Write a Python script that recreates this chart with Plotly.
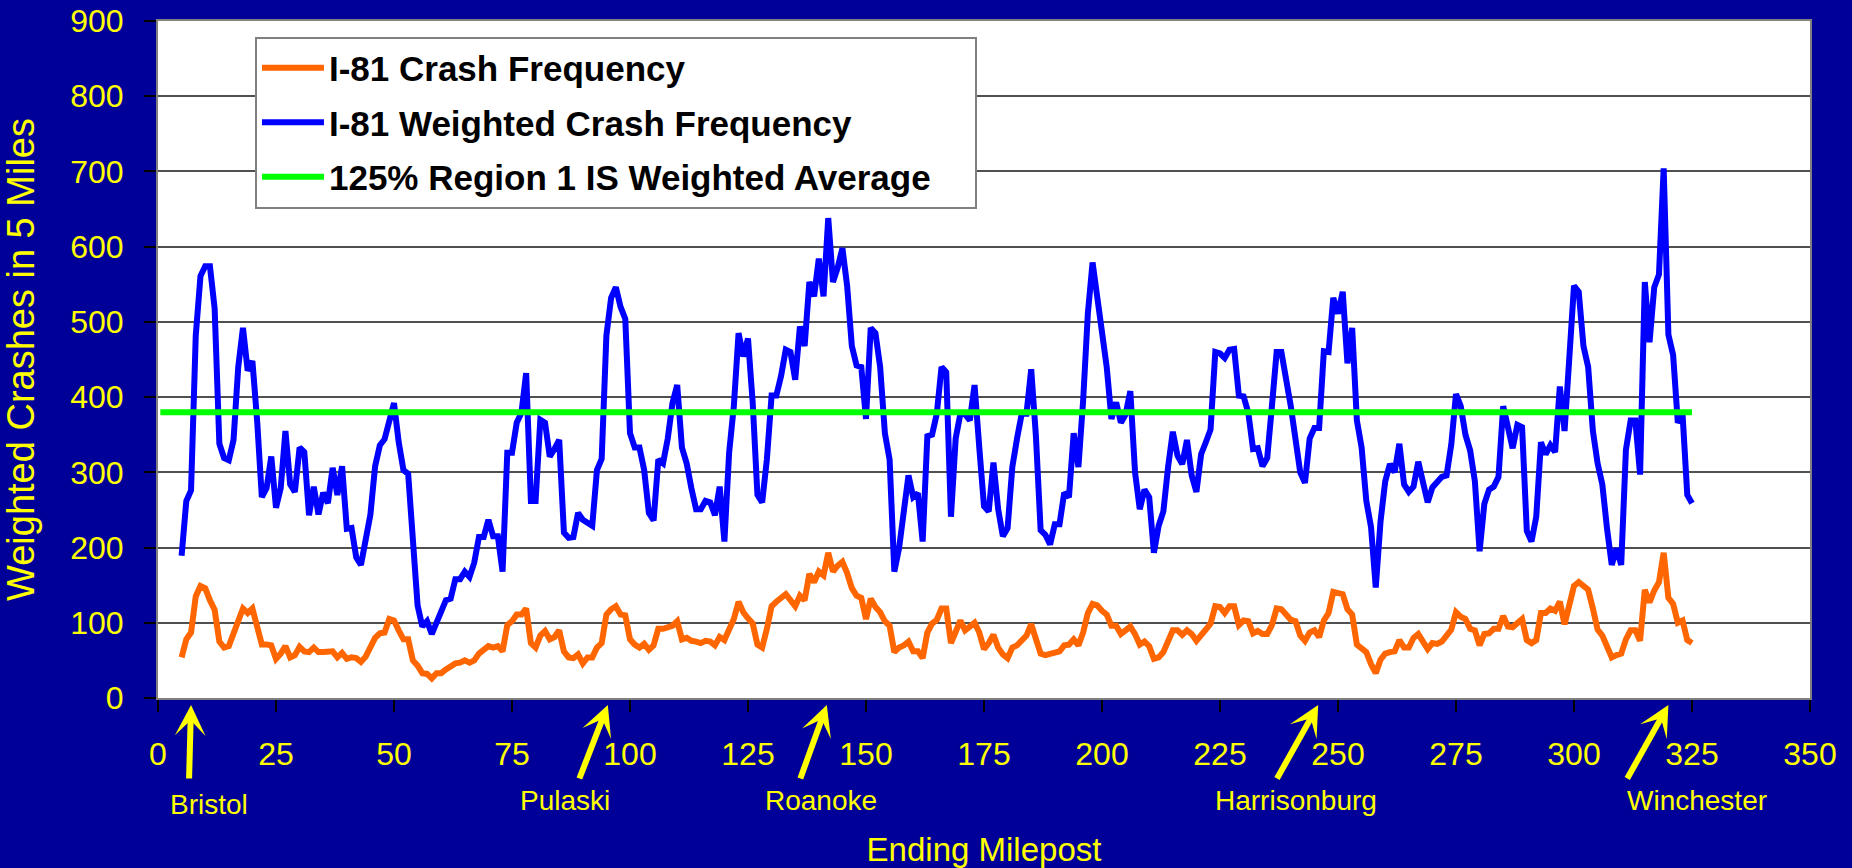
import plotly.graph_objects as go

# ---------------- data ----------------
milepost = list(range(5, 326))

crash_freq = [
    54, 78, 87, 135, 149, 146, 130, 117, 75, 67,            # 5-14
    69, 85, 106, 119, 113, 119, 95, 71, 71, 70,             # 15-24
    52, 59, 69, 54, 57, 68, 62, 61, 67, 61,                 # 25-34
    61, 61, 62, 54, 60, 52, 54, 53, 48, 55,                 # 35-44
    68, 80, 86, 87, 105, 103, 90, 78, 78, 50,               # 45-54
    43, 33, 32, 26, 33, 33, 38, 42, 46, 47,                 # 55-64
    50, 47, 50, 59, 65, 69, 67, 69, 62, 97,                 # 65-74
    102, 111, 111, 119, 73, 67, 83, 89, 78, 81,             # 75-84
    90, 62, 54, 53, 58, 46, 54, 54, 67, 73,                 # 85-94
    111, 118, 122, 111, 110, 78, 71, 67, 72, 64,            # 95-104
    70, 92, 92, 95, 96, 102, 78, 80, 76, 75,                # 105-114
    73, 76, 75, 70, 81, 77, 90, 105, 128, 114,              # 115-124
    106, 99, 71, 67, 92, 122, 128, 133, 138, 130,           # 125-134
    122, 136, 130, 165, 154, 168, 163, 193, 168, 176,       # 135-144
    181, 166, 146, 136, 133, 105, 132, 121, 114, 102,       # 145-154
    96, 61, 67, 70, 75, 62, 62, 53, 87, 99,                 # 155-164
    104, 119, 119, 73, 87, 103, 90, 95, 100, 87,            # 165-174
    65, 73, 84, 67, 58, 53, 67, 70, 78, 83,                 # 175-184
    98, 76, 59, 57, 59, 62, 62, 70, 71, 78,                 # 185-194
    70, 87, 113, 125, 123, 116, 111, 96, 96, 85,            # 195-204
    90, 95, 85, 71, 75, 69, 52, 54, 61, 78,                 # 205-214
    90, 90, 84, 90, 85, 76, 85, 91, 99, 122,                # 215-224
    121, 113, 122, 122, 97, 103, 102, 86, 89, 85,           # 225-234
    85, 97, 119, 118, 111, 104, 102, 83, 76, 87,            # 235-244
    90, 81, 103, 113, 141, 139, 138, 118, 111, 71,          # 245-254
    65, 61, 45, 33, 51, 59, 61, 62, 77, 67,                 # 255-264
    67, 80, 85, 75, 65, 73, 72, 75, 84, 91,                 # 265-274
    114, 108, 105, 92, 90, 70, 85, 86, 92, 92,              # 275-284
    109, 95, 94, 99, 105, 77, 73, 77, 113, 113,             # 285-294
    119, 116, 128, 98, 122, 149, 154, 150, 144, 119,        # 295-304
    91, 83, 69, 54, 57, 59, 78, 90, 90, 76,                 # 305-314
    144, 127, 143, 154, 193, 133, 125, 100, 103, 77,        # 315-324
    73,                                                     # 325
]

weighted_freq = [
    189, 262, 276, 482, 561, 574, 574, 518, 338, 319,       # 5-14
    316, 343, 440, 492, 435, 448, 369, 267, 279, 321,       # 15-24
    253, 279, 355, 284, 274, 333, 327, 243, 281, 244,       # 25-34
    273, 259, 306, 270, 308, 225, 226, 187, 177, 210,       # 35-44
    244, 308, 336, 344, 365, 392, 340, 303, 298, 199,       # 45-54
    123, 95, 102, 85, 99, 115, 130, 132, 158, 158,          # 55-64
    168, 161, 180, 214, 214, 237, 215, 215, 168, 326,       # 65-74
    326, 366, 379, 432, 262, 262, 370, 366, 321, 331,       # 75-84
    343, 220, 213, 214, 246, 237, 233, 229, 303, 318,       # 85-94
    482, 532, 546, 520, 504, 352, 333, 333, 303, 246,       # 95-104
    236, 317, 312, 345, 392, 416, 333, 312, 279, 251,       # 105-114
    251, 262, 260, 243, 281, 208, 326, 388, 485, 454,       # 115-124
    478, 392, 270, 260, 317, 402, 402, 428, 463, 460,       # 125-134
    423, 494, 468, 553, 534, 584, 534, 638, 553, 572,       # 135-144
    598, 548, 468, 442, 440, 371, 492, 485, 440, 352,       # 145-154
    317, 168, 199, 248, 296, 267, 272, 208, 348, 350,       # 155-164
    378, 440, 433, 241, 345, 378, 377, 369, 416, 333,       # 165-174
    255, 248, 313, 251, 215, 226, 307, 345, 378, 378,       # 175-184
    437, 348, 223, 217, 204, 231, 231, 273, 267, 352,       # 185-194
    307, 395, 511, 579, 530, 496, 440, 371, 393, 366,       # 195-204
    377, 408, 300, 251, 277, 267, 193, 229, 248, 307,       # 205-214
    354, 322, 311, 343, 296, 274, 324, 340, 357, 460,       # 215-224
    458, 452, 463, 464, 402, 401, 379, 331, 332, 308,       # 225-234
    319, 388, 460, 460, 428, 388, 344, 300, 286, 345,       # 235-244
    359, 359, 461, 460, 532, 511, 540, 445, 492, 369,       # 245-254
    333, 262, 227, 147, 234, 288, 311, 300, 338, 284,       # 255-264
    274, 281, 314, 287, 260, 280, 288, 294, 296, 337,       # 265-274
    404, 388, 350, 329, 288, 195, 258, 277, 281, 294,       # 275-284
    388, 358, 332, 363, 360, 222, 208, 241, 340, 324,       # 285-294
    336, 327, 414, 355, 463, 548, 540, 468, 440, 355,       # 295-304
    312, 284, 225, 177, 199, 177, 330, 369, 369, 297,       # 305-314
    553, 473, 546, 563, 704, 483, 456, 366, 377, 270,       # 315-324
    259,                                                    # 325
]

avg_milepost = [0.5, 325]
avg_value = [380, 380]

series_names = [
    "I-81 Crash Frequency",
    "I-81 Weighted Crash Frequency",
    "125% Region 1 IS Weighted Average",
]

y_ticks = [0, 100, 200, 300, 400, 500, 600, 700, 800, 900]
x_ticks = [0, 25, 50, 75, 100, 125, 150, 175, 200, 225, 250, 275, 300, 325, 350]

city_names = ["Bristol", "Pulaski", "Roanoke", "Harrisonburg", "Winchester"]
city_arrow_mile = [7.0, 95.3, 141.7, 245.8, 320.0]
city_label_mile = [10.9, 86.3, 140.5, 241.0, 326.1]

# ---------------- styling ----------------
NAVY = "#000099"
YELLOW = "#FFFF00"
FONT = "Arial, Liberation Sans, sans-serif"
NBSP = "\u00a0"

legend_labels = [series_names[0], series_names[1], series_names[2] + NBSP * 4]

fig = go.Figure()
fig.add_trace(go.Scatter(x=milepost, y=crash_freq, mode="lines", name=legend_labels[0],
                         legendgroup="a", line=dict(color="#FF6600", width=6)))
fig.add_trace(go.Scatter(x=milepost, y=weighted_freq, mode="lines", name=legend_labels[1],
                         legendgroup="b", line=dict(color="#0000FF", width=6)))
fig.add_trace(go.Scatter(x=avg_milepost, y=avg_value, mode="lines", name=legend_labels[2],
                         legendgroup="c", line=dict(color="#00FF00", width=6)))

annotations = []
arrow_dx = [-2, -29, -27, -42, -42]
label_dy = [-0.158, -0.1507, -0.1507, -0.1507, -0.1507]
for name, am, lm, dx, ly in zip(city_names, city_arrow_mile, city_label_mile, arrow_dx, label_dy):
    annotations.append(dict(
        x=am, y=-0.0103, xref="x", yref="paper", text="", showarrow=True,
        ax=dx, ay=75, arrowhead=3, arrowwidth=6, arrowsize=0.85, arrowcolor=YELLOW,
    ))
    annotations.append(dict(
        x=lm, y=ly, xref="x", yref="paper", text=name, showarrow=False,
        xanchor="center", yanchor="middle",
        font=dict(family=FONT, size=28, color=YELLOW),
    ))

fig.update_layout(
    width=1852, height=868,
    margin=dict(l=158, r=42, t=21, b=170),
    paper_bgcolor=NAVY,
    plot_bgcolor="#FFFFFF",
    font=dict(family=FONT, color=YELLOW),
    showlegend=True,
    legend=dict(
        x=0.0587, y=0.977, xanchor="left", yanchor="top",
        bgcolor="#FFFFFF", bordercolor="#808080", borderwidth=2,
        font=dict(family=FONT, size=35, color="#000000", weight="bold"),
        itemwidth=62, tracegroupgap=6, traceorder="grouped",
    ),
    xaxis=dict(
        range=[0, 350], tickvals=x_ticks, ticktext=[str(v) for v in x_ticks],
        showgrid=False, zeroline=False, automargin=False,
        showline=True, linecolor="#808080", linewidth=2, mirror=True,
        ticks="outside", ticklen=12, tickcolor="#000000", tickwidth=1.5,
        ticklabelstandoff=15, ticklabeloverflow="allow",
        tickfont=dict(family=FONT, size=32, color=YELLOW),
        title=dict(text="Ending Milepost", standoff=66,
                   font=dict(family=FONT, size=33, color=YELLOW)),
    ),
    yaxis=dict(
        range=[0, 900], tickvals=y_ticks, ticktext=[str(v) for v in y_ticks],
        showgrid=True, gridcolor="#505050", gridwidth=1.5, zeroline=False, automargin=False,
        showline=True, linecolor="#808080", linewidth=2, mirror=True,
        ticks="outside", ticklen=12, tickcolor="#000000", tickwidth=1.5,
        ticklabelstandoff=14, ticklabeloverflow="allow",
        tickfont=dict(family=FONT, size=32, color=YELLOW),
        title=dict(text="Weighted Crashes in 5 Miles", standoff=25,
                   font=dict(family=FONT, size=38, color=YELLOW)),
    ),
    annotations=annotations,
)

# remove the browser's default 8px page margin so the figure sits at the window origin
fig.write_html(
    "out.html",
    config={"displayModeBar": False},
    post_script="document.body.style.margin='0';document.body.style.background='#000099';",
)
